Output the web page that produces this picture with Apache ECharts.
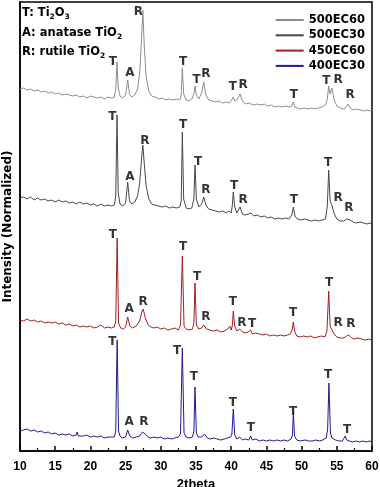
<!DOCTYPE html>
<html lang="en">
<head>
<meta charset="UTF-8">
<title>XRD</title>
</head>
<body style="margin:0">
<div id="main" style="width:380px;height:487px"></div>
<script src="https://cdn.jsdelivr.net/npm/echarts@6/dist/echarts.min.js"></script>
<script>
// sample names, top to bottom
var samples = ['500EC60', '500EC30', '450EC60', '400EC30'];
var colors = ['#8c8c8c', '#474747', '#a11f1f', '#1c1c8f'];

// traces: [2theta, intensity incl. stacking offset]
var trace500EC60 = [
  [10,362],[10.5,363],[11,361],[11.5,362],[12,360],[12.5,361],[13,359],[13.5,360],[14,358],[14.5,359],
  [15,357],[15.5,358],[16,356],[16.5,357],[17,356],[17.5,355],[18,356],[18.5,354],[19,355],[19.5,353],
  [20,355],[20.5,354],[21,353],[21.5,354],[22,352],[22.5,354],[23,353],[23.4,354],[23.6,362],[23.78,389],
  [23.95,363],[24.2,355],[24.6,353],[25,356],[25.3,371],[25.55,357],[25.9,354],[26.3,356],[26.7,362],[27,378],
  [27.25,410],[27.45,441],[27.65,405],[27.9,375],[28.3,360],[28.7,355],[29.2,354],[29.7,352],[30.2,353],[30.7,351],
  [31.2,352],[31.7,351],[32.2,352],[32.7,351],[32.9,356],[33.06,383],[33.25,357],[33.6,351],[34,350],[34.4,352],
  [34.7,357],[34.86,365],[35.05,356],[35.4,352],[35.8,358],[36.1,369],[36.4,356],[36.8,351],[37.3,350],[37.8,349],
  [38.3,350],[38.8,348],[39.3,349],[39.7,348],[40,350],[40.15,351],[40.3,354],[40.5,350],[40.8,351],[41.25,357],
  [41.6,350],[42,347],[42.5,348],[42.8,347],[43.2,346],[43.7,347],[44.2,346],[44.7,347],[45.2,345],[45.7,346],
  [46.2,344],[46.7,345],[47.2,344],[47.7,345],[48.2,344],[48.6,345],[48.83,349],[49.05,344],[49.4,343],[49.9,342],
  [50.4,343],[50.9,342],[51.4,343],[51.9,342],[52.4,343],[52.9,344],[53.4,346],[53.65,352],[53.85,365],[54.05,357],
  [54.3,363],[54.6,352],[55,345],[55.5,343],[56,342],[56.3,344],[56.6,347],[56.9,343],[57.3,341],[57.8,342],
  [58.3,341],[58.8,340],[59.3,341],[59.7,340],[60,341]
];
var trace500EC30 = [
  [10,253],[10.5,254],[11,252],[11.5,254],[12,251],[12.5,253],[13,251],[13.5,252],[14,250],[14.5,251],
  [15,249],[15.5,251],[16,249],[16.5,250],[17,248],[17.5,249],[18,247],[18.5,249],[19,247],[19.5,248],
  [20,246],[20.5,247],[21,245],[21.5,247],[22,245],[22.5,246],[23,245],[23.4,246],[23.6,255],[23.78,336],
  [23.95,258],[24.2,247],[24.6,245],[25,248],[25.3,269],[25.55,250],[25.9,247],[26.3,249],[26.7,255],[27,268],
  [27.3,295],[27.45,306],[27.6,292],[27.9,266],[28.3,252],[28.7,247],[29.2,246],[29.7,245],[30.2,244],[30.7,245],
  [31.2,243],[31.7,244],[32.2,243],[32.7,244],[32.9,250],[33.06,319],[33.25,252],[33.6,243],[34,242],[34.4,243],
  [34.7,252],[34.86,286],[35.05,252],[35.4,244],[35.8,247],[36.1,254],[36.4,246],[36.8,242],[37.3,241],[37.8,240],
  [38.3,239],[38.8,240],[39.3,238],[39.7,240],[40,238],[40.15,245],[40.3,259],[40.5,244],[40.8,238],[41.25,244],
  [41.6,237],[42,236],[42.5,237],[42.8,238],[43.2,235],[43.7,236],[44.2,234],[44.7,235],[45.2,233],[45.7,234],
  [46.2,232],[46.7,233],[47.2,232],[47.7,233],[48.2,232],[48.6,236],[48.83,244],[49.05,235],[49.4,232],[49.9,231],
  [50.4,232],[50.9,231],[51.4,230],[51.9,231],[52.4,230],[52.9,231],[53.4,232],[53.65,245],[53.85,281],[54.05,250],
  [54.3,246],[54.6,238],[55,232],[55.5,230],[56,230],[56.4,232],[56.65,234],[56.9,231],[57.3,229],[57.8,228],
  [58.3,229],[58.8,228],[59.3,227],[59.7,228],[60,227]
];
var trace450EC60 = [
  [10,131],[10.5,130],[11,132],[11.5,130],[12,131],[12.5,129],[13,130],[13.5,128],[14,129],[14.5,128],
  [15,129],[15.5,127],[16,128],[16.5,126],[17,127],[17.5,125],[18,126],[18.5,124],[19,125],[19.5,124],
  [20,125],[20.5,123],[21,124],[21.5,126],[22,123],[22.5,124],[23,123],[23.4,124],[23.6,130],[23.8,213],
  [24,128],[24.3,123],[24.7,122],[25,124],[25.3,134],[25.6,125],[26,123],[26.5,125],[27,130],[27.3,139],
  [27.5,142],[27.8,133],[28.2,126],[28.6,124],[29,123],[29.5,124],[30,122],[30.5,123],[31,121],[31.5,122],
  [32,123],[32.5,121],[32.8,126],[33.06,195],[33.3,125],[33.6,122],[34,121],[34.5,122],[34.7,128],[34.86,168],
  [35.05,126],[35.4,122],[35.8,123],[36.1,126],[36.5,122],[37,121],[37.5,120],[38,121],[38.5,119],[39,120],
  [39.5,122],[39.8,125],[40,121],[40.15,125],[40.3,140],[40.5,125],[40.8,120],[41.2,122],[41.6,119],[42,118],
  [42.4,119],[42.77,121],[43,117],[43.5,118],[44,117],[44.5,116],[45,117],[45.5,115],[46,116],[46.5,115],
  [47,116],[47.5,115],[48,116],[48.4,117],[48.65,121],[48.83,129],[49,120],[49.3,115],[49.8,114],[50.3,115],
  [50.8,114],[51.3,115],[51.8,113],[52.3,114],[52.8,115],[53.3,114],[53.6,120],[53.85,160],[54.05,125],[54.3,123],
  [54.6,117],[55,114],[55.5,113],[56,113],[56.4,115],[56.7,116],[57.1,113],[57.5,112],[58,113],[58.5,112],
  [59,111],[59.5,112],[60,111]
];
var trace400EC30 = [
  [10,20],[10.5,21],[11,22],[11.5,20],[12,21],[12.5,19],[13,20],[13.5,18],[14,19],[14.5,17],
  [15,18],[15.5,16],[16,17],[16.5,16],[17,17],[17.5,15],[18,16],[18.1,19],[18.3,15],[18.5,16],
  [19,15],[19.5,16],[20,14],[20.5,15],[21,14],[21.5,15],[22,13],[22.5,14],[23,14],[23.4,14],
  [23.6,20],[23.8,111],[24,20],[24.2,15],[24.5,13],[25,14],[25.3,21],[25.6,15],[26,13],[26.5,14],
  [27,15],[27.4,19],[27.8,17],[28.2,14],[28.5,13],[29,14],[29.5,13],[30,14],[30.5,12],[31,13],
  [31.5,12],[32,13],[32.5,14],[32.8,17],[33.06,103],[33.3,18],[33.6,14],[34,13],[34.5,14],[34.7,20],
  [34.86,64],[35.05,18],[35.3,14],[35.8,14],[36.2,17],[36.6,13],[37,12],[37.5,13],[38,12],[38.5,11],
  [39,12],[39.5,13],[39.9,14],[40.1,17],[40.3,42],[40.5,16],[40.8,12],[41.2,14],[41.6,11],[42,12],
  [42.5,11],[42.77,15],[43,11],[43.5,12],[44,10],[44.5,11],[45,10],[45.5,11],[46,10],[46.5,11],
  [47,10],[47.5,11],[48,10],[48.5,12],[48.7,16],[48.83,39],[49,15],[49.3,11],[49.8,10],[50.5,11],
  [51,10],[51.5,10],[52,11],[52.5,10],[53,11],[53.5,13],[53.7,22],[53.88,68],[54.1,18],[54.3,13],
  [54.8,11],[55.3,10],[55.8,10],[56.05,11],[56.2,15],[56.4,11],[56.8,10],[57.2,9],[57.7,10],[58.2,9],
  [58.7,10],[59.2,9],[59.6,10],[60,9]
];
var traces = [trace500EC60, trace500EC30, trace450EC60, trace400EC30];

// phase markers: [2theta, height, letter]
var peakLabels = [
  [23.2,389,'T'],[25.6,378,'A'],[26.8,439,'R'],[33.15,389,'T'],[35.1,371,'T'],[36.4,377,'R'],
  [40.25,364,'T'],[41.7,366,'R'],[48.9,356,'T'],[53.5,370,'T'],[55.2,371,'R'],[56.9,356,'R'],
  [23.1,334,'T'],[25.6,274,'A'],[27.75,310,'R'],[33.15,326,'T'],[35.3,289,'T'],[36.4,261,'R'],
  [40.4,265,'T'],[41.7,251,'R'],[48.9,251,'T'],[53.75,288,'T'],[55.2,253,'R'],[56.7,243,'R'],
  [23.2,216,'T'],[25.5,142,'A'],[27.5,149,'R'],[33.15,204,'T'],[35.15,174,'T'],[36.4,134,'R'],
  [40.25,149,'T'],[41.5,128,'R'],[42.95,127,'T'],[48.8,138,'T'],[53.9,168,'T'],[55.2,128,'R'],[57,127,'R'],
  [23.1,109,'T'],[32.3,100,'T'],[25.5,29,'A'],[27.6,29,'R'],[34.7,74,'T'],[40.25,48,'T'],
  [42.8,23,'T'],[48.8,39,'T'],[53.75,76,'T'],[56.45,21,'T']
];

var xTicks = [10, 15, 20, 25, 30, 35, 40, 45, 50, 55, 60];

var chart = echarts.init(document.getElementById('main'));
var txt = 'DejaVu Sans';

var series = samples.map(function (name, i) {
  return {
    name: name,
    type: 'line',
    data: traces[i],
    symbol: 'none',
    lineStyle: { width: 1, color: colors[i] },
    itemStyle: { color: colors[i] },
    silent: true
  };
});
series.push({
  type: 'scatter',
  data: peakLabels,
  symbolSize: 0,
  silent: true,
  label: {
    show: true,
    position: 'inside',
    formatter: function (p) { return p.data[2]; },
    fontFamily: txt,
    fontWeight: 'bold',
    fontSize: 12,
    color: '#000'
  }
});

var subStyle = { fontFamily: txt, fontWeight: 'bold', fontSize: 7.5, lineHeight: 15, verticalAlign: 'bottom', color: '#000' };

var option = {
  animation: false,
  grid: {
    left: 20, right: 8, top: 2, bottom: 36,
    outerBoundsMode: 'none',
    show: true, borderColor: '#000', borderWidth: 1.5
  },
  legend: {
    data: samples,
    orient: 'vertical',
    right: 10,
    top: 9,
    itemWidth: 28,
    itemHeight: 12,
    itemGap: 3.3,
    itemStyle: { opacity: 0 },
    textStyle: { fontFamily: txt, fontWeight: 'bold', fontSize: 11.5, lineHeight: 12, color: '#000' }
  },
  xAxis: {
    type: 'value',
    min: xTicks[0],
    max: xTicks[xTicks.length - 1],
    interval: 5,
    name: '2theta',
    nameLocation: 'middle',
    nameGap: 20,
    nameTextStyle: { fontFamily: 'Arial', fontWeight: 'bold', fontSize: 13, color: '#000' },
    axisLine: { lineStyle: { color: '#000', width: 1.5 } },
    axisTick: { inside: true, length: 5, lineStyle: { color: '#000', width: 1.5 } },
    minorTick: { show: true, splitNumber: 2, length: 3, lineStyle: { color: '#000', width: 1.2 } },
    axisLabel: { margin: 10, fontFamily: 'Arial', fontWeight: 'bold', fontSize: 12, color: '#000' },
    splitLine: { show: false }
  },
  yAxis: {
    type: 'value',
    min: 0,
    max: 449,
    name: 'Intensity (Normalized)',
    nameLocation: 'middle',
    nameGap: 6,
    nameTextStyle: { fontFamily: txt, fontWeight: 'bold', fontSize: 12, color: '#000' },
    axisLine: { show: true, lineStyle: { color: '#000', width: 1.5 } },
    axisTick: { show: false },
    axisLabel: { show: false },
    splitLine: { show: false }
  },
  graphic: [
    { type: 'text', left: 22, top: 6, style: { text: 'T: Ti{s|2}O{s|3}', rich: { s: subStyle }, font: 'bold 11.5px "DejaVu Sans"', fill: '#000', lineHeight: 15 } },
    { type: 'text', left: 22, top: 26, style: { text: 'A: anatase TiO{s|2}', rich: { s: subStyle }, font: 'bold 11.5px "DejaVu Sans"', fill: '#000', lineHeight: 15 } },
    { type: 'text', left: 22, top: 45, style: { text: 'R: rutile TiO{s|2}', rich: { s: subStyle }, font: 'bold 11.5px "DejaVu Sans"', fill: '#000', lineHeight: 15 } }
  ],
  series: series
};

chart.setOption(option);
</script>
</body>
</html>
